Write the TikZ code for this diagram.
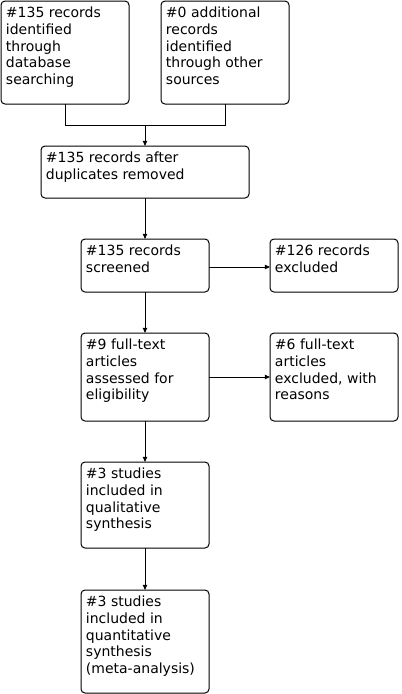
\documentclass[tikz,border=0pt]{standalone}
\usepackage{fontspec}
\setmainfont{DejaVu Sans}
\usetikzlibrary{arrows.meta,calc}
\begin{document}
\begin{tikzpicture}[x=0.75pt,y=-0.75pt,
  box/.style={draw=black, line width=0.75pt, rounded corners=3pt, fill=white, inner sep=0pt, outer sep=0pt},
  txt/.style={anchor=north west, inner sep=0pt, align=left, font=\fontsize{10.5pt}{12.5pt}\selectfont},
  conn/.style={draw=black, line width=0.75pt},
  arr/.style={conn, -{Triangle[length=3.8pt,width=3.2pt]}}]
\useasboundingbox (0,0) rectangle (402,694);
\def\mkbox#1#2#3#4#5#6{%
  \node[box, minimum width={(#4-#2)*0.75pt}, minimum height={(#5-#3)*0.75pt}] (#1) at ({(#2+#4)/2},{(#3+#5)/2}) {};
  \node[txt] (#1-t) at ($(#1.north west)+(4.7,6)$) {#6};}
% boxes
\mkbox{a}{1}{1}{129}{104}{\#135 records\\identified\\through\\database\\searching}
\mkbox{b}{161}{1}{289}{104}{\#0 additional\\records\\identified\\through other\\sources}
\mkbox{c}{41}{146}{249}{198}{\#135 records after\\duplicates removed}
\mkbox{d}{81}{239}{209}{292}{\#135 records\\screened}
\mkbox{e}{270}{239}{398}{292}{\#126 records\\excluded}
\mkbox{f}{81}{333}{209}{421}{\#9 full-text\\articles\\assessed for\\eligibility}
\mkbox{g}{270}{333}{398}{421}{\#6 full-text\\articles\\excluded, with\\reasons}
\mkbox{h}{81}{462}{209}{548}{\#3 studies\\included in\\qualitative\\synthesis}
\mkbox{i}{81}{590}{209}{693}{\#3 studies\\included in\\quantitative\\synthesis\\(meta-analysis)}
% connectors
\coordinate (aj) at ($(a.south)+(0,21)$);
\coordinate (bj) at ($(b.south)+(0,21)$);
\coordinate (mj) at ($(aj)!0.5!(bj)$);
\draw[conn] (a.south) -- (aj) -- (bj) -- (b.south);
\draw[arr] (mj) -- (c.north);
\draw[arr] (c.south) -- (d.north);
\draw[arr] ($(d.east)+(0,1.5)$) -- ($(e.west)+(0,1.5)$);
\draw[arr] (d.south) -- (f.north);
\draw[arr] (f.east) -- (g.west);
\draw[arr] (f.south) -- (h.north);
\draw[arr] (h.south) -- (i.north);
\end{tikzpicture}
\end{document}
